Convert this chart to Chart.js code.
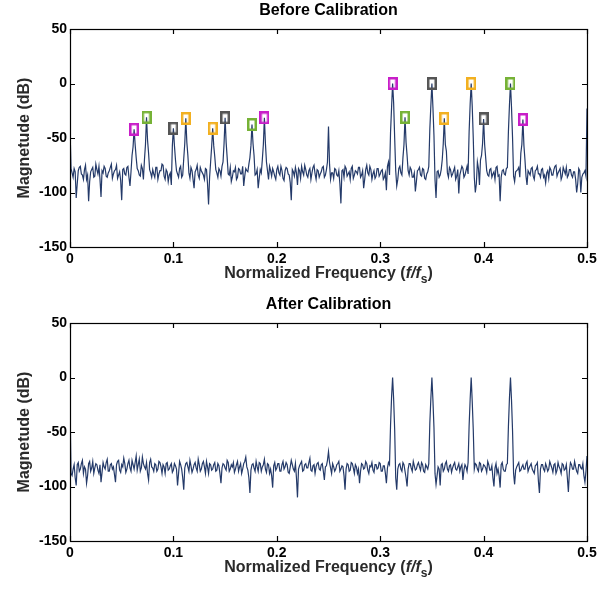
<!DOCTYPE html>
<html>
<head>
<meta charset="utf-8">
<script src="https://cdn.jsdelivr.net/npm/chart.js@4.4.1/dist/chart.umd.min.js"></script>
<style>
  body { margin: 0; background: #fff; }
  canvas { display: block; }
</style>
</head>
<body>
<canvas id="beforeChart" width="615" height="294"></canvas>
<canvas id="afterChart" width="615" height="295"></canvas>
<script>
// spectrum
// *Levels: values at 0, 0.002, 0.004 ... 0.5 (f/fs)
// *Mid: values in between, at 0.001, 0.003 ... 0.499
const beforeLevels = [
  -40, -82, -78, -105, -80, -76, -84, -79, -88, -108,
  -81, -77, -85, -79, -76, -104, -82, -78, -86, -80,
  -74, -83, -79, -87, -81, -107, -78, -84, -76, -94,
  -66, -42, -68, -80, -85, -78, -70, -31, -64, -82,
  -79, -86, -77, -83, -80, -75, -88, -81, -84, -93,
  -41, -70, -83, -78, -86, -69, -32, -66, -87, -80,
  -96, -79, -84, -77, -82, -88, -79, -111, -72, -41,
  -67, -82, -78, -85, -72, -31.5, -68, -84, -90, -80,
  -77, -86, -79, -83, -94, -78, -81, -68, -37.6, -66,
  -83, -96, -79, -70, -31.5, -72, -88, -80, -78, -85,
  -79, -82, -76, -87, -80, -78, -84, -107, -81, -77,
  -93, -80, -76, -84, -79, -86, -78, -82, -75, -88,
  -80, -83, -77, -86, -79, -39.5, -88, -82, -78, -84,
  -80, -110, -79, -76, -85, -81, -78, -87, -80, -83,
  -77, -84, -96, -79, -82, -76, -88, -80, -85, -78,
  -83, -79, -86, -98, -72, -45, 0, -50, -94, -78,
  -82, -68, -31, -66, -84, -79, -86, -99, -80, -77,
  -85, -79, -88, -81, -42, 0, -48, -105, -80, -84,
  -70, -32, -62, -86, -79, -83, -77, -85, -101, -80,
  -78, -84, -76, -44, 0, -50, -100, -72, -93, -66,
  -32.5, -68, -84, -79, -86, -81, -77, -85, -108, -80,
  -83, -78, -44, 0, -50, -90, -80, -77, -64, -33,
  -70, -93, -82, -78, -85, -80, -76, -83, -79, -86,
  -91, -80, -77, -84, -79, -75, -82, -78, -85, -80,
  -77, -84, -79, -86, -81, -100, -78, -100, -83, -80,
  -23
];
const beforeMid = [
  -78, -86, -81, -92, -77, -83, -88, -75, -84, -90,
  -79, -86, -74, -83, -88, -80, -76, -85, -82, -77,
  -87, -80, -75, -84, -89, -79, -83, -77, -86, -81,
  -58, -56, -78, -84, -75, -88, -56, -52, -79, -86,
  -83, -77, -88, -80, -74, -85, -79, -90, -82, -57,
  -57, -80, -86, -76, -84, -55, -54, -82, -77, -88,
  -81, -75, -87, -80, -84, -78, -92, -86, -58, -57,
  -79, -86, -80, -76, -55, -54, -83, -77, -86, -81,
  -88, -78, -83, -76, -85, -80, -74, -57, -55, -84,
  -79, -87, -82, -56, -55, -80, -76, -85, -81, -88,
  -76, -84, -80, -89, -77, -83, -91, -79, -85, -82,
  -78, -87, -81, -75, -84, -80, -88, -77, -83, -79,
  -86, -81, -76, -84, -72, -74, -82, -87, -79, -85,
  -92, -80, -86, -78, -83, -88, -76, -84, -81, -77,
  -86, -80, -88, -75, -84, -79, -83, -87, -78, -85,
  -80, -88, -82, -76, -84, -22, -18, -80, -88, -76,
  -84, -56, -54, -80, -77, -86, -82, -90, -79, -84,
  -78, -87, -83, -76, -20, -22, -88, -81, -86, -79,
  -55, -56, -82, -77, -85, -80, -88, -79, -84, -76,
  -86, -80, -83, -19, -21, -86, -92, -78, -70, -55,
  -56, -80, -85, -78, -83, -88, -76, -84, -86, -79,
  -84, -77, -20, -22, -85, -81, -79, -86, -56, -57,
  -85, -80, -84, -77, -88, -79, -83, -86, -78, -84,
  -82, -87, -79, -84, -76, -85, -80, -88, -77, -83,
  -86, -79, -84, -81, -88, -92, -80, -86, -82, -85
];

const afterLevels = [
  -24, -90, -80, -99, -78, -84, -76, -82, -97, -79,
  -86, -77, -83, -80, -88, -96, -78, -84, -75, -86,
  -79, -82, -96, -77, -85, -80, -74, -87, -79, -83,
  -76, -84, -72, -80, -86, -73, -82, -78, -94, -75,
  -83, -79, -86, -77, -82, -80, -88, -78, -84, -79,
  -85, -81, -99, -77, -84, -103, -79, -82, -76, -87,
  -80, -83, -75, -86, -79, -82, -77, -88, -80, -84,
  -78, -85, -81, -97, -79, -83, -76, -86, -80, -78,
  -84, -77, -82, -88, -79, -73, -85, -106, -80, -83,
  -77, -86, -79, -82, -75, -87, -80, -84, -101, -78,
  -83, -79, -86, -77, -82, -80, -88, -76, -84, -79,
  -110, -81, -77, -85, -79, -83, -74, -86, -80, -82,
  -78, -85, -79, -94, -81, -68, -83, -79, -86, -80,
  -77, -84, -82, -103, -79, -86, -78, -83, -80, -88,
  -97, -79, -84, -77, -85, -81, -78, -87, -80, -83,
  -79, -86, -81, -97, -78, -44, 0, -48, -103, -80,
  -84, -78, -86, -100, -79, -83, -77, -85, -80, -82,
  -78, -86, -80, -84, -42, 0, -46, -98, -82, -99,
  -79, -84, -77, -86, -80, -83, -78, -85, -79, -82,
  -94, -80, -86, -44, 0, -48, -79, -84, -78, -86,
  -80, -83, -77, -85, -81, -100, -79, -84, -101, -78,
  -86, -80, -45, 0, -49, -98, -82, -78, -85, -80,
  -84, -77, -83, -79, -86, -81, -78, -106, -80, -84,
  -79, -86, -77, -83, -80, -88, -78, -84, -79, -85,
  -80, -105, -78, -84, -77, -86, -80, -83, -79, -96,
  -72
];
const afterMid = [
  -88, -84, -92, -80, -86, -79, -88, -84, -90, -77,
  -83, -88, -79, -85, -80, -87, -82, -78, -86, -80,
  -84, -89, -80, -76, -87, -82, -79, -84, -76, -86,
  -80, -78, -85, -75, -83, -79, -84, -88, -78, -82,
  -86, -80, -84, -78, -88, -82, -79, -85, -81, -87,
  -79, -84, -88, -80, -92, -83, -78, -86, -81, -84,
  -78, -86, -80, -84, -77, -88, -82, -79, -85, -80,
  -86, -79, -88, -83, -80, -85, -78, -84, -82, -87,
  -80, -86, -79, -84, -77, -82, -92, -85, -79, -86,
  -82, -78, -86, -80, -84, -79, -88, -90, -81, -85,
  -79, -86, -80, -84, -78, -87, -82, -80, -86, -92,
  -84, -79, -86, -80, -83, -78, -85, -81, -88, -79,
  -84, -80, -86, -82, -76, -78, -88, -82, -84, -79,
  -86, -81, -90, -84, -80, -85, -79, -88, -82, -84,
  -86, -80, -83, -79, -88, -82, -85, -80, -84, -78,
  -86, -81, -88, -83, -80, -18, -20, -92, -84, -79,
  -86, -80, -92, -84, -79, -86, -81, -84, -78, -85,
  -80, -87, -82, -79, -19, -21, -88, -90, -84, -80,
  -86, -79, -84, -81, -87, -80, -84, -82, -86, -80,
  -85, -82, -78, -20, -22, -84, -80, -86, -79, -84,
  -81, -87, -80, -85, -92, -83, -88, -90, -80, -84,
  -86, -79, -19, -21, -88, -85, -80, -86, -82, -84,
  -79, -86, -81, -84, -88, -80, -95, -84, -80, -86,
  -82, -84, -80, -87, -79, -85, -82, -88, -80, -84,
  -92, -86, -80, -84, -82, -88, -80, -84, -90, -86
];

// tone / image markers (before calibration only)
const magentaFreq  = [0.062, 0.188, 0.312, 0.438];
const magentaLevel = [-42, -31.5, 0, -33];
const greenFreq    = [0.074, 0.176, 0.324, 0.426];
const greenLevel   = [-31, -37.6, -31, 0];
const grayFreq     = [0.1, 0.15, 0.35, 0.4];
const grayLevel    = [-41, -31.5, 0, -32.5];
const orangeFreq   = [0.112, 0.138, 0.362, 0.388];
const orangeLevel  = [-32, -41, -32, 0];

const xTicks = [0, 0.1, 0.2, 0.3, 0.4, 0.5];
const yTicks = [-150, -100, -50, 0, 50];

const FONT = "'Liberation Sans', Arial, sans-serif";
const LINE_COLOR = '#243a69';

// interleave the two sample sets into x/y points
function gridOf(levels, mids) {
    const pts = [];
    levels.forEach((v, i) => {
        pts.push({ x: +(i * 0.002).toFixed(3), y: v });
        if (i < mids.length) pts.push({ x: +(i * 0.002 + 0.001).toFixed(3), y: mids[i] });
    });
    return pts;
}

function pairs(fs, ls) {
    return fs.map((f, i) => ({ x: f, y: ls[i] }));
}

// small open rectangle used as marker
function boxMarker(color) {
    const c = document.createElement('canvas');
    c.width = 10;
    c.height = 13;
    const g = c.getContext('2d');
    g.strokeStyle = color;
    g.lineWidth = 2.5;
    g.strokeRect(1.25, 1.25, 7.5, 10.5);
    return c;
}

function markerSet(fs, ls, color) {
    return {
        type: 'scatter',
        data: pairs(fs, ls),
        pointStyle: boxMarker(color),
        pointRadius: 6,
        showLine: false,
        order: 1
    };
}

const framePlugin = {
    id: 'frame',
    afterDraw(chart) {
        const ctx = chart.ctx;
        const { left, right, top, bottom } = chart.chartArea;
        const xs = chart.scales.x, ys = chart.scales.y;
        ctx.save();
        ctx.strokeStyle = '#000';
        ctx.lineWidth = 1.2;
        ctx.strokeRect(left + 0.5, top + 0.5, right - left, bottom - top);
        ctx.beginPath();
        xTicks.forEach(v => {
            const px = Math.round(xs.getPixelForValue(v)) + 0.5;
            ctx.moveTo(px, bottom); ctx.lineTo(px, bottom - 5);
            ctx.moveTo(px, top); ctx.lineTo(px, top + 5);
        });
        yTicks.forEach(v => {
            const py = Math.round(ys.getPixelForValue(v)) + 0.5;
            ctx.moveTo(left, py); ctx.lineTo(left + 5, py);
            ctx.moveTo(right, py); ctx.lineTo(right - 5, py);
        });
        ctx.stroke();

        const cx = (left + right) / 2;
        // title
        ctx.fillStyle = '#000';
        ctx.font = 'bold 16px ' + FONT;
        ctx.textAlign = 'center';
        ctx.textBaseline = 'middle';
        ctx.fillText(chart.options.plugins.frame.title, cx, 11);

        // y label
        ctx.fillStyle = '#2a2a2a';
        ctx.save();
        ctx.translate(25, (top + bottom) / 2);
        ctx.rotate(-Math.PI / 2);
        ctx.fillText('Magnetude (dB)', 0, 0);
        ctx.restore();

        // x label with italic f/f and subscript s
        const y0 = bottom + 31;
        const partA = 'Normalized Frequency (';
        const partB = 'f/f';
        const partC = 's';
        const partD = ')';
        ctx.textAlign = 'left';
        ctx.textBaseline = 'alphabetic';
        ctx.font = 'bold 16px ' + FONT;
        const wA = ctx.measureText(partA).width;
        const wD = ctx.measureText(partD).width;
        ctx.font = 'italic bold 16px ' + FONT;
        const wB = ctx.measureText(partB).width;
        ctx.font = 'bold 12px ' + FONT;
        const wC = ctx.measureText(partC).width;
        let x = cx - (wA + wB + wC + wD) / 2;
        ctx.font = 'bold 16px ' + FONT;
        ctx.fillText(partA, x, y0); x += wA;
        ctx.font = 'italic bold 16px ' + FONT;
        ctx.fillText(partB, x, y0); x += wB;
        ctx.font = 'bold 12px ' + FONT;
        ctx.fillText(partC, x, y0 + 5); x += wC;
        ctx.font = 'bold 16px ' + FONT;
        ctx.fillText(partD, x, y0);
        ctx.restore();
    }
};

function makeChart(id, title, levels, mids, markers) {
    const canvas = document.getElementById(id);
    const xHeight = canvas.height - 247;
    const datasets = [{
        type: 'line',
        data: gridOf(levels, mids),
        borderColor: LINE_COLOR,
        borderWidth: 1.2,
        pointRadius: 0,
        tension: 0,
        order: 2
    }].concat(markers);

    return new Chart(canvas.getContext('2d'), {
        type: 'line',
        data: { datasets },
        options: {
            responsive: false,
            animation: false,
            devicePixelRatio: 1,
            layout: { padding: { top: 29, right: 28, left: 0, bottom: 0 } },
            plugins: {
                legend: { display: false },
                tooltip: { enabled: false },
                frame: { title }
            },
            scales: {
                x: {
                    type: 'linear',
                    min: 0,
                    max: 0.5,
                    afterFit: s => { s.height = xHeight; },
                    afterBuildTicks: s => { s.ticks = xTicks.map(v => ({ value: v })); },
                    grid: { display: false, drawTicks: false },
                    border: { display: false },
                    ticks: {
                        padding: 4,
                        color: '#000',
                        font: { family: FONT, size: 14, weight: 'bold' },
                        maxRotation: 0,
                        callback: v => v === 0 ? '0' : v.toFixed(1)
                    }
                },
                y: {
                    min: -150,
                    max: 50,
                    afterFit: s => { s.width = 70; },
                    afterBuildTicks: s => { s.ticks = yTicks.map(v => ({ value: v })); },
                    grid: { display: false, drawTicks: false },
                    border: { display: false },
                    ticks: {
                        padding: 3,
                        color: '#000',
                        font: { family: FONT, size: 14, weight: 'bold' },
                        callback: v => String(v)
                    }
                }
            }
        },
        plugins: [framePlugin]
    });
}

makeChart('beforeChart', 'Before Calibration', beforeLevels, beforeMid, [
    markerSet(magentaFreq, magentaLevel, '#c81ec8'),
    markerSet(greenFreq, greenLevel, '#76b236'),
    markerSet(grayFreq, grayLevel, '#555555'),
    markerSet(orangeFreq, orangeLevel, '#f2b020')
]);

makeChart('afterChart', 'After Calibration', afterLevels, afterMid, []);
</script>
</body>
</html>
